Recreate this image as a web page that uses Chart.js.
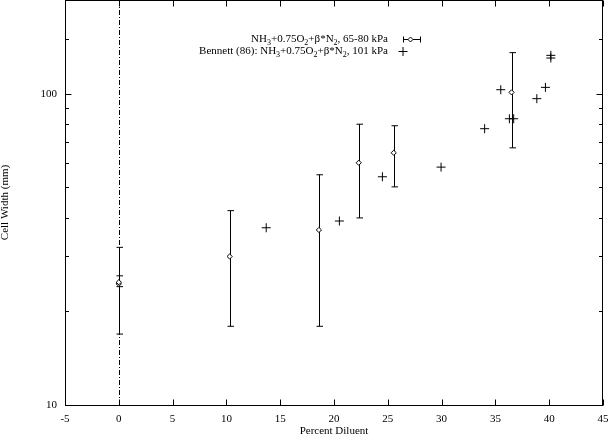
<!DOCTYPE html>
<html>
<head>
<meta charset="utf-8">
<script src="https://cdn.jsdelivr.net/npm/chart.js@4.4.0/dist/chart.umd.min.js"></script>
<style>
  html, body { margin: 0; padding: 0; background: #fff; }
  #wrap { width: 609px; height: 435px; }
</style>
</head>
<body>
<div id="wrap"><canvas id="myChart" width="609" height="435"></canvas></div>
<script>
// ===== data =====
// NH3+0.75O2+b*N2, 65-80 kPa (diamonds with error bars)
var pctA  = [0,    0,    10.3, 18.6, 22.3, 25.55, 36.5];
var cellA = [24.5, 24.8, 30.0, 36.5, 60.0, 64.6,  101];
var lowA  = [16.9, 24.0, 17.9, 17.9, 39.9, 50.2,  67.0];
var highA = [32.1, 26.0, 42.1, 54.9, 79.8, 78.9,  135.5];

// Bennett (86), 101 kPa (plus marks)
var pctB  = [13.7, 20.5, 24.5, 29.95, 34.0, 35.5, 36.3, 36.7, 38.85, 39.65, 40.15, 40.15];
var cellB = [37.1, 39.0, 54.1, 58.1,  77.2, 103,  83.1, 83.1, 96.4,  104.8, 132.8, 130.2];

var yLabels = [10, 100];

// legend texts, split in pieces so the subscripts can be drawn
var legendA = [['NH'], ['3', 1], ['+0.75O'], ['2', 1], ['+\u03b2*N'], ['2', 1], [', 65-80 kPa']];
var legendB = [['Bennett (86): NH'], ['3', 1], ['+0.75O'], ['2', 1], ['+\u03b2*N'], ['2', 1], [', 101 kPa']];

var FONT = '"Liberation Serif", "DejaVu Serif", serif';

function toPoints(xs, ys) {
    var out = [];
    for (var i = 0; i < xs.length; i++) out.push({x: xs[i], y: ys[i]});
    return out;
}

// ===== frame, inward ticks, zero axis, error bars, legend =====
var gnuplotLook = {
    id: 'gnuplotLook',
    beforeDatasetsDraw: function(chart) {
        var ctx = chart.ctx, a = chart.chartArea;
        var xs = chart.scales.x, ys = chart.scales.y;
        ctx.save();
        ctx.strokeStyle = '#000';
        ctx.lineWidth = 1;

        // dash-dot line at x = 0
        var x0 = Math.round(xs.getPixelForValue(0)) + 0.5;
        ctx.setLineDash([5, 2, 1, 2]);
        ctx.beginPath();
        ctx.moveTo(x0, a.top);
        ctx.lineTo(x0, a.bottom);
        ctx.stroke();
        ctx.setLineDash([]);

        // error bars
        for (var i = 0; i < pctA.length; i++) {
            var px = Math.round(xs.getPixelForValue(pctA[i])) + 0.5;
            var pl = ys.getPixelForValue(lowA[i]);
            var ph = ys.getPixelForValue(highA[i]);
            ctx.beginPath();
            ctx.moveTo(px, pl); ctx.lineTo(px, ph);
            ctx.moveTo(px - 3, pl); ctx.lineTo(px + 3.5, pl);
            ctx.moveTo(px - 3, ph); ctx.lineTo(px + 3.5, ph);
            ctx.stroke();
        }
        ctx.restore();
    },
    afterDraw: function(chart) {
        var ctx = chart.ctx, a = chart.chartArea;
        var xs = chart.scales.x, ys = chart.scales.y;
        ctx.save();
        ctx.strokeStyle = '#000';
        ctx.lineWidth = 1;
        var L = Math.round(a.left) + 0.5, R = Math.round(a.right) - 0.5;
        var T = Math.round(a.top) + 0.5, B = Math.round(a.bottom) + 0.5;
        ctx.strokeRect(L, T, R - L, B - T);

        ctx.beginPath();
        // x ticks bottom and top
        for (var v = -5; v <= 45; v += 5) {
            var px = Math.round(xs.getPixelForValue(v)) + 0.5;
            ctx.moveTo(px, B); ctx.lineTo(px, B - 6);
            ctx.moveTo(px, T); ctx.lineTo(px, T + 6);
        }
        // y ticks left and right, log minor ones shorter
        ys.ticks.forEach(function(t) {
            var py = Math.round(ys.getPixelForValue(t.value)) + 0.5;
            var len = yLabels.indexOf(t.value) >= 0 ? 6 : 3.5;
            ctx.moveTo(L, py); ctx.lineTo(L + len, py);
            ctx.moveTo(R, py); ctx.lineTo(R - len, py);
        });
        ctx.stroke();

        // legend
        drawPieces(ctx, legendA, 388, 42);
        drawPieces(ctx, legendB, 388, 54);
        // sample: error bar with diamond
        var sy = 39.5;
        ctx.beginPath();
        ctx.moveTo(403, sy); ctx.lineTo(421, sy);
        ctx.moveTo(403.5, sy - 3); ctx.lineTo(403.5, sy + 3);
        ctx.moveTo(420.5, sy - 3); ctx.lineTo(420.5, sy + 3);
        ctx.stroke();
        ctx.fillStyle = '#fff';
        ctx.beginPath();
        ctx.moveTo(410.5, sy - 2.5); ctx.lineTo(413, sy); ctx.lineTo(410.5, sy + 2.5); ctx.lineTo(408, sy);
        ctx.closePath();
        ctx.fill(); ctx.stroke();
        // sample: plus
        ctx.beginPath();
        ctx.moveTo(398.5, 51.5); ctx.lineTo(407.5, 51.5);
        ctx.moveTo(403, 47); ctx.lineTo(403, 56);
        ctx.stroke();
        ctx.restore();
    }
};

function drawPieces(ctx, pieces, right, baseline) {
    var big = '11px ' + FONT, small = '8px ' + FONT;
    var w = 0;
    pieces.forEach(function(p) {
        ctx.font = p[1] ? small : big;
        w += ctx.measureText(p[0]).width;
    });
    var x = right - w;
    ctx.fillStyle = '#000';
    ctx.textBaseline = 'alphabetic';
    ctx.textAlign = 'left';
    pieces.forEach(function(p) {
        ctx.font = p[1] ? small : big;
        ctx.fillText(p[0], x, baseline + (p[1] ? 3 : 0));
        x += ctx.measureText(p[0]).width;
    });
}

var bieudo = new Chart(document.getElementById('myChart'), {
    type: 'scatter',
    data: {
        datasets: [{
            label: 'NH3+0.75O2+b*N2, 65-80 kPa',
            data: toPoints(pctA, cellA),
            pointStyle: 'rectRot',
            pointRadius: 2.6,
            pointBorderWidth: 1,
            borderColor: '#000',
            backgroundColor: '#fff'
        }, {
            label: 'Bennett (86): NH3+0.75O2+b*N2, 101 kPa',
            data: toPoints(pctB, cellB),
            pointStyle: 'cross',
            pointRadius: 4.5,
            pointBorderWidth: 1,
            borderColor: '#000',
            backgroundColor: '#000'
        }]
    },
    options: {
        responsive: false,
        animation: false,
        layout: { autoPadding: false, padding: { top: 0, right: 6, left: 0, bottom: 0 } },
        plugins: {
            legend: { display: false },
            tooltip: { enabled: false }
        },
        scales: {
            x: {
                type: 'linear',
                min: -5, max: 45,
                afterFit: function(s) {
                    s.height = 30;
                    s.paddingLeft = 0; s.paddingRight = 0;
                },
                grid: { display: false, drawTicks: false },
                border: { display: false },
                ticks: {
                    stepSize: 5, padding: 8, color: '#000',
                    font: { family: FONT, size: 11 },
                    maxRotation: 0
                },
                title: {
                    display: true, text: 'Percent Diluent', color: '#000',
                    font: { family: FONT, size: 11, lineHeight: 1 },
                    padding: { top: 0, bottom: -2 }
                }
            },
            y: {
                type: 'logarithmic',
                min: 10, max: 200,
                afterFit: function(s) {
                    s.width = 65;
                    s.paddingTop = 0; s.paddingBottom = 0;
                },
                grid: { display: false, drawTicks: false },
                border: { display: false },
                ticks: {
                    autoSkip: false, padding: 8, color: '#000',
                    font: { family: FONT, size: 11 },
                    callback: function(v) { return yLabels.indexOf(v) >= 0 ? String(v) : ''; }
                },
                title: {
                    display: true, text: 'Cell Width (mm)', color: '#000',
                    font: { family: FONT, size: 11, lineHeight: 1 },
                    padding: 0
                }
            }
        }
    },
    plugins: [gnuplotLook]
});
</script>
</body>
</html>
